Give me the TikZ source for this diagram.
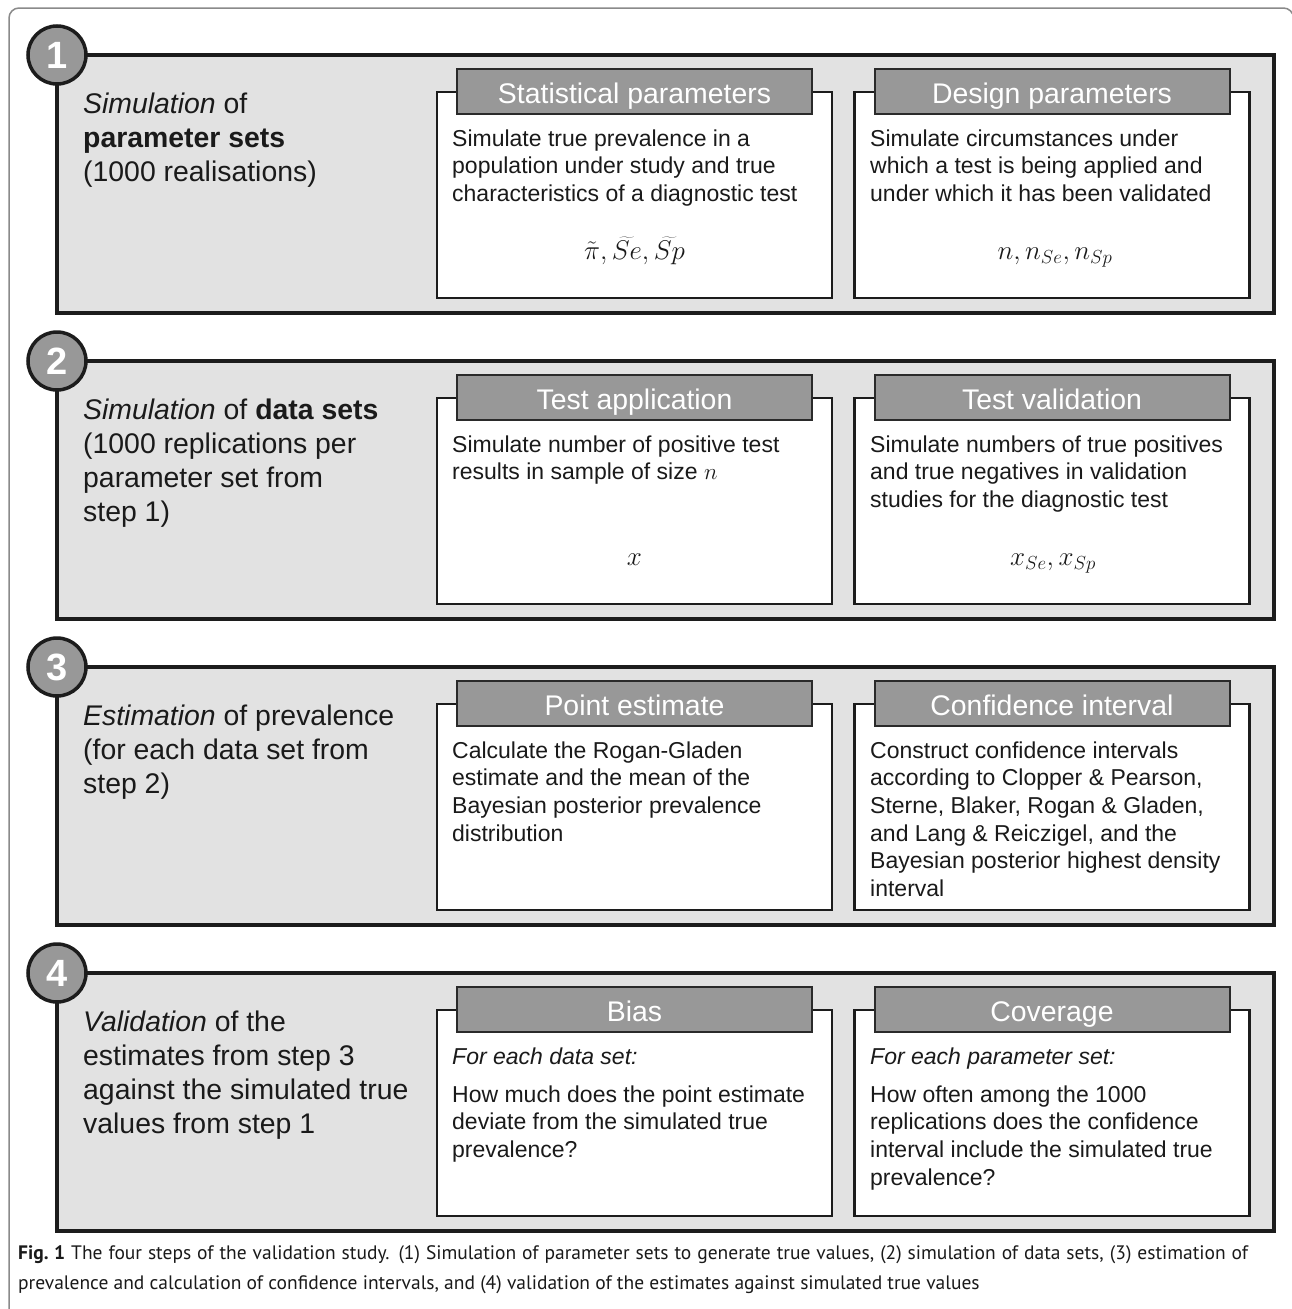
\RequirePackage{fix-cm}
\documentclass[tikz,border=0pt]{standalone}
\usepackage{fontspec}
\setmainfont{Liberation Sans}
\newfontfamily\capfont{PT Sans}
\definecolor{dk}{HTML}{1C1C1C}
\definecolor{panelgray}{HTML}{E2E2E2}
\definecolor{hdrgray}{HTML}{989898}
\definecolor{hdrline}{HTML}{2A2A2A}
\definecolor{txt}{HTML}{1A1A1A}
\definecolor{framegray}{HTML}{8A8A8A}
\tikzset{
 panel/.style={draw=dk, line width=3.5pt, fill=panelgray, minimum width=1217pt, minimum height=258pt, inner sep=0pt},
 boxw/.style={draw=dk, line width=2.5pt, fill=white, minimum width=395pt, minimum height=206pt, inner sep=0pt},
 hdr/.style={draw=hdrline, line width=2pt, fill=hdrgray, minimum width=355pt, minimum height=45pt, inner sep=0pt, text=white, font=\fontsize{28.4}{28}\selectfont, text height=23pt, text depth=0pt},
 numc/.style={circle, draw=dk, line width=3.5pt, fill=hdrgray, minimum size=58pt, inner sep=0pt, text=white, font=\bfseries\fontsize{38}{38}\selectfont, text height=27pt, text depth=0pt},
 lt/.style={anchor=base west, inner sep=0pt, font=\fontsize{28.4}{34}\selectfont, text=txt},
 bt/.style={anchor=base west, inner sep=0pt, font=\fontsize{23}{28}\selectfont, text=txt},
 mt/.style={anchor=base, inner sep=0pt, font=\fontsize{27}{30}\selectfont, text=txt},
 capt/.style={anchor=base west, inner sep=0pt, font=\capfont\fontsize{19.5}{23}\selectfont, text=txt},
}
\newcommand{\stepframe}[4]{%
 \node[panel] (p#1) at (665.5, {#2+129}) {};
 \node[boxw] (a#1) at (634.5, {#2+140}) {};
 \node[boxw] (b#1) at (1052, {#2+140}) {};
 \node[hdr] (ha#1) at (634.5, {#2+36.5}) {#3};
 \node[hdr] (hb#1) at (1052, {#2+36.5}) {#4};
 \node[numc] (c#1) at (57, #2) {#1};
}
\newcommand{\tlines}[6]{%
 \foreach \tline [count=\k] in {#6}{\node[#1] (#2\k) at (#3, {#4+#5*(\k-1)}) {\tline};}%
}
\begin{document}
\begin{tikzpicture}[x=1pt,y=-1pt]
\useasboundingbox (0,0) rectangle (1292,1309);
\fill[white] (0,0) rectangle (1292,1309);
\draw[framegray, line width=1.5pt, rounded corners=10pt] (9,1320) -- (9,8) -- (1293.5,8) -- (1293.5,1320);

% ---------- Step 1 ----------
\stepframe{1}{55}{Statistical parameters}{Design parameters}
\tlines{lt}{s1l}{83}{113}{34.3}{{\textit{Simulation} of}, {\textbf{parameter sets}}, {(1000 realisations)}}
\tlines{bt}{s1a}{452}{146}{27.7}{{Simulate true prevalence in a}, {population under study and true}, {characteristics of a diagnostic test}}
\tlines{bt}{s1b}{870}{146}{27.7}{{Simulate circumstances under}, {which a test is being applied and}, {under which it has been validated}}
\node[mt] (m1a) at (634.5, 259) {$\tilde{\pi},\widetilde{Se},\widetilde{Sp}$};
\node[mt] (m1b) at (1055, 259) {$n,n_{Se},n_{Sp}$};

% ---------- Step 2 ----------
\stepframe{2}{361}{Test application}{Test validation}
\tlines{lt}{s2l}{83}{419}{34.3}{{\textit{Simulation} of \textbf{data sets}}, {(1000 replications per}, {parameter set from}, {step 1)}}
\tlines{bt}{s2a}{452}{452}{27.7}{{Simulate number of positive test}, {results in sample of size $n$}}
\tlines{bt}{s2b}{870}{452}{27.7}{{Simulate numbers of true positives}, {and true negatives in validation}, {studies for the diagnostic test}}
\node[mt] (m2a) at (634.5, 565) {$x$};
\node[mt] (m2b) at (1053, 565) {$x_{Se},x_{Sp}$};

% ---------- Step 3 ----------
\stepframe{3}{667}{Point estimate}{Confidence interval}
\tlines{lt}{s3l}{83}{725}{34.3}{{\textit{Estimation} of prevalence}, {(for each data set from}, {step 2)}}
\tlines{bt}{s3a}{452}{758}{27.7}{{Calculate the Rogan-Gladen}, {estimate and the mean of the}, {Bayesian posterior prevalence}, {distribution}}
\tlines{bt}{s3b}{870}{758}{27.7}{{Construct confidence intervals}, {according to Clopper \& Pearson,}, {Sterne, Blaker, Rogan \& Gladen,}, {and Lang \& Reiczigel, and the}, {Bayesian posterior highest density}, {interval}}

% ---------- Step 4 ----------
\stepframe{4}{973}{Bias}{Coverage}
\tlines{lt}{s4l}{83}{1031}{34.3}{{\textit{Validation} of the}, {estimates from step 3}, {against the simulated true}, {values from step 1}}
\node[bt] (s4ai) at (452, 1064) {\textit{For each data set:}};
\tlines{bt}{s4a}{452}{1102}{27.7}{{How much does the point estimate}, {deviate from the simulated true}, {prevalence?}}
\node[bt] (s4bi) at (870, 1064) {\textit{For each parameter set:}};
\tlines{bt}{s4b}{870}{1102}{27.7}{{How often among the 1000}, {replications does the confidence}, {interval include the simulated true}, {prevalence?}}

% ---------- Caption ----------
\node[capt] (cap1) at (18, 1259) {\makebox[1230pt][s]{\textbf{Fig.\ 1} The four steps of the validation study. (1) Simulation of parameter sets to generate true values, (2) simulation of data sets, (3) estimation of}};
\node[capt] (cap2) at (18, 1289) {prevalence and calculation of confidence intervals, and (4) validation of the estimates against simulated true values};
\end{tikzpicture}
\end{document}
